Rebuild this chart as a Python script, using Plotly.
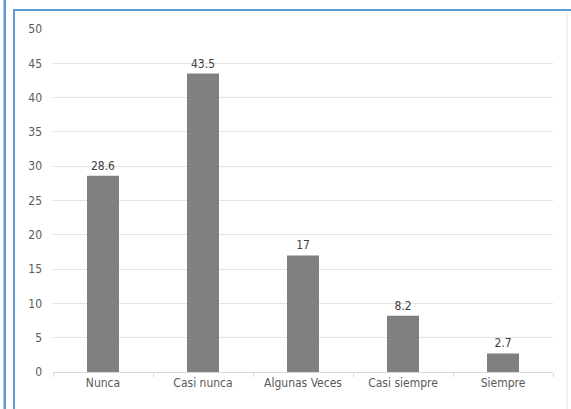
import plotly.graph_objects as go

categories = ["Nunca", "Casi nunca", "Algunas Veces", "Casi siempre", "Siempre"]
values = [28.6, 43.5, 17, 8.2, 2.7]
labels = ["28.6", "43.5", "17", "8.2", "2.7"]
y_ticks = [0, 5, 10, 15, 20, 25, 30, 35, 40, 45, 50]

W, H = 571, 409
ML, MR, MT, MB = 53, 18, 29, 37
PW, PH = W - ML - MR, H - MT - MB

def px_x(x):
    return (x - ML) / PW

def px_y(y):
    return 1 - (y - MT) / PH

FONT = "Liberation Sans Narrow, Arial Narrow, DejaVu Sans Condensed, Liberation Sans, sans-serif"

fig = go.Figure(go.Bar(
    x=categories, y=values, text=labels, textposition="outside",
    textfont=dict(family=FONT, size=12, color="#404040"),
    marker=dict(color="#808080", line=dict(width=0)),
    width=0.32, cliponaxis=False,
))

blue = "#5b9bd5"

def rect(x0, x1, y0, y1, color):
    return dict(type="rect", xref="paper", yref="paper", layer="above",
                x0=px_x(x0), x1=px_x(x1), y0=px_y(y1), y1=px_y(y0),
                fillcolor=color, line=dict(width=0))

shapes = [
    rect(3.5, 6, 0, 409, blue),
    rect(13, 15, 9, 409, blue),
    rect(13, 571, 9, 11, blue),
    rect(566.5, 567.5, 12, 409, "#e6e6e6"),
]

fig.update_layout(
    width=W, height=H,
    margin=dict(l=ML, r=MR, t=MT, b=MB),
    paper_bgcolor="white", plot_bgcolor="white",
    showlegend=False,
    shapes=shapes,
)
fig.update_xaxes(
    showgrid=False, showline=True, linecolor="#d9d9d9", linewidth=1,
    ticks="outside", tickson="boundaries", ticklen=4, tickcolor="#d9d9d9",
    tickfont=dict(family=FONT, size=12, color="#595959"),
)
fig.update_yaxes(
    range=[0, 50], tickvals=y_ticks, showgrid=True, gridcolor="#e3e3e3", gridwidth=1,
    zeroline=False, showline=False, ticks="",
    tickfont=dict(family=FONT, size=12, color="#595959"), ticklabelstandoff=10,
)

fig.write_html("out.html", config={"displayModeBar": False},
               post_script="document.body.style.margin='0';document.body.style.overflow='hidden';")
